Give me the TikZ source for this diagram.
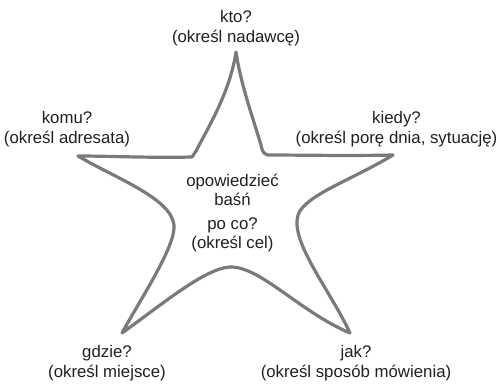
\documentclass[tikz,border=0pt]{standalone}
\usepackage{fontspec}
\setmainfont{Liberation Sans}
\definecolor{stargray}{HTML}{7A7A7A}
\definecolor{txt}{HTML}{231F20}
\begin{document}
\begin{tikzpicture}[x=1pt,y=-1pt,
  lbl/.style={align=center,inner sep=0pt,text=txt,font=\fontsize{16.8}{19.5}\selectfont},
  starline/.style={draw=stargray,line width=3.2pt,line join=round,line cap=round}]
\useasboundingbox (0,0) rectangle (500,384);
% star
\draw[starline]
  (236,52) .. controls (230,92) and (208,128) .. (196,151)
  -- (192,157)
  .. controls (150,158) and (110,156) .. (78,156)
  .. controls (115,178) and (171,198) .. (174,225)
  .. controls (176,246) and (140,300) .. (122,333)
  .. controls (160,306) and (205,268) .. (230,267)
  .. controls (260,266) and (300,312) .. (350,333)
  .. controls (330,290) and (290,242) .. (298,215)
  .. controls (305,195) and (352,180) .. (393,155)
  .. controls (350,156) and (300,155) .. (268,155)
  .. controls (263,154) and (262,150) .. (261,145)
  .. controls (252,115) and (241,85) .. cycle;
% labels
\node[lbl] (kto) at (236,28) {kto?\\(określ nadawcę)};
\node[lbl] (komu) at (67,129) {komu?\\(określ adresata)};
\node[lbl] (kiedy) at (396.5,129) {kiedy?\\(określ porę dnia, sytuację)};
\node[lbl] (opow) at (232.5,190) {opowiedzieć\\baśń};
\node[lbl] (poco) at (232.5,235) {po co?\\(określ cel)};
\node[lbl] (gdzie) at (107,363) {gdzie?\\(określ miejsce)};
\node[lbl] (jak) at (356,363) {jak?\\(określ sposób mówienia)};
\end{tikzpicture}
\end{document}
